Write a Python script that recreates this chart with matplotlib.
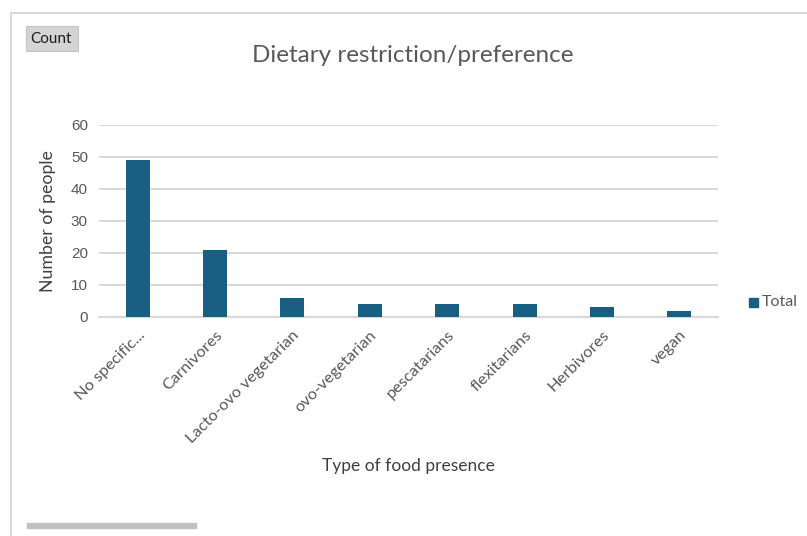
import matplotlib.pyplot as plt
from matplotlib.patches import Rectangle
from matplotlib.lines import Line2D
import numpy as np

categories = ["No specific...", "Carnivores", "Lacto-ovo vegetarian", "ovo-vegetarian",
              "pescatarians", "flexitarians", "Herbivores", "vegan"]
totals = [49, 21, 6, 4, 4, 4, 3, 2]
yticks = [0, 10, 20, 30, 40, 50, 60]

W, H = 807, 536
fig = plt.figure(figsize=(W / 100, H / 100), dpi=100)
fig.patch.set_facecolor("white")

def fx(px):
	return px / W

def fy(py):
	return 1 - py / H

ax = fig.add_axes([fx(99), fy(317), fx(718) - fx(99), fy(125) - fy(317)])
x = np.arange(len(categories))
bars = ax.bar(x, totals, width=0.31, color="#195e83", label="Total", zorder=3)
ax.set_xlim(-0.5, len(categories) - 0.5)
ax.set_ylim(0, 60)
ax.set_yticks(yticks)
ax.set_yticklabels([str(t) for t in yticks], fontsize=11, color="#595959", family="Liberation Sans")
ax.yaxis.grid(True, color="#d9d9d9", linewidth=1.5, zorder=0)
for s in ["top", "right", "left"]:
	ax.spines[s].set_visible(False)
ax.spines["bottom"].set_color("#d9d9d9")
ax.spines["bottom"].set_linewidth(1.5)
ax.tick_params(axis="both", length=0, pad=8)
ax.set_xticks(x)
ax.set_xticklabels(categories, rotation=45, ha="right", rotation_mode="anchor",
                   fontsize=11.8, color="#595959", family="Lato")

fig.text(fx(413), fy(56), "Dietary restriction/preference", ha="center", va="center",
         fontsize=17.5, color="#595959", family="Lato")
fig.text(fx(48), fy(221), "Number of people", ha="center", va="center", rotation=90,
         fontsize=12.8, color="#404040", family="Lato")
fig.text(fx(408), fy(466), "Type of food presence", ha="center", va="center",
         fontsize=12.5, color="#404040", family="Lato")

# legend
fig.patches.append(Rectangle((fx(749), fy(307)), fx(9), 9 / H, transform=fig.transFigure,
                             color="#195e83", figure=fig))
fig.text(fx(762), fy(302), "Total", ha="left", va="center", fontsize=11.5, color="#595959", family="Lato")

# outer frame
fig.add_artist(Line2D([fx(11), fx(11)], [fy(13), 0], color="#d9d9d9", linewidth=1.5))
fig.add_artist(Line2D([fx(11), 1], [fy(13), fy(13)], color="#d9d9d9", linewidth=1.5))

# count field button
fig.patches.append(Rectangle((fx(26), fy(51)), fx(52), 25 / H, transform=fig.transFigure,
                             facecolor="#d4d4d4", edgecolor="#c4c4c4", linewidth=0.8, figure=fig))
fig.text(fx(51), fy(39), "Count", ha="center", va="center", fontsize=11, color="#1a1a1a", family="Lato")

# scrollbar at the bottom
fig.patches.append(Rectangle((fx(27), fy(528)), fx(169), 5 / H, transform=fig.transFigure,
                             color="#c0c0c0", figure=fig))

fig.savefig("out.png", dpi=100)
